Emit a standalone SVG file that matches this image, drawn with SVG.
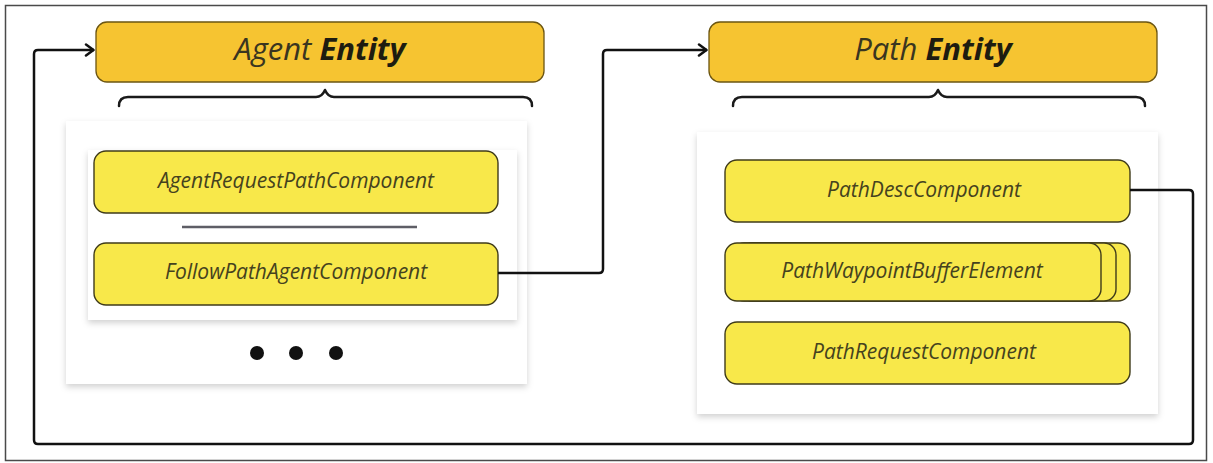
<svg xmlns="http://www.w3.org/2000/svg" width="1213" height="463" viewBox="0 0 1213 463">
  <defs>
    <style>
      .frame { fill: #ffffff; stroke: #4a4a4a; stroke-width: 1.5; }
      .header { fill: #F6C431; stroke: #6b5512; stroke-width: 1.3; }
      .header-text { font-family: "Open Sans", "Noto Sans", sans-serif; font-style: italic; font-size: 31px; fill: #3a3520; }
      .header-text .bold { font-weight: 700; fill: #1e1c10; }
      .brace { fill: none; stroke: #1a1a1a; stroke-width: 2.5; stroke-linejoin: round; stroke-linecap: round; }
      .panel { fill: #ffffff; }
      .comp { fill: #F8E84A; stroke: #3f3b1a; stroke-width: 1.4; }
      .comp-text { font-family: "Open Sans", "Noto Sans", sans-serif; font-style: italic; font-size: 21px; fill: #45421e; text-anchor: middle; }
      .link { fill: none; stroke: #111111; stroke-width: 2.5; stroke-linejoin: round; }
      .sep { stroke: #5e5e66; stroke-width: 2.5; }
      .dot { fill: #111111; }
    </style>
    <filter id="soft-shadow" x="-10%" y="-10%" width="120%" height="125%">
      <feDropShadow dx="0" dy="3" stdDeviation="3" flood-color="#000000" flood-opacity="0.18"/>
    </filter>
    <marker id="chevron" viewBox="0 0 12 14" refX="11" refY="7" markerWidth="12" markerHeight="14" markerUnits="userSpaceOnUse" orient="auto">
      <path d="M3 1.5 L10.5 7 L3 12.5" fill="none" stroke="#111111" stroke-width="2.5" stroke-linecap="round" stroke-linejoin="round"/>
    </marker>
  </defs>

  <!-- outer frame -->
  <rect class="frame" x="5.5" y="5.5" width="1201" height="455"/>

  <!-- Agent entity -->
  <g id="agent-entity">
    <rect class="header" x="96" y="22" width="448" height="60" rx="11"/>
    <text class="header-text" x="320" y="60" text-anchor="middle">Agent <tspan class="bold">Entity</tspan></text>
    <path class="brace" d="M119 106 Q119 97 128 97 H316 Q322 97 325 90 Q328 97 334 97 H523 Q532 97 532 106"/>
  </g>

  <g id="agent-panel">
    <rect class="panel" x="66" y="121" width="461" height="263" filter="url(#soft-shadow)"/>
    <rect class="panel" x="88" y="150" width="429" height="170" filter="url(#soft-shadow)"/>
    <g id="agent-request-path">
      <rect class="comp" x="94" y="151" width="404" height="62" rx="12"/>
      <text class="comp-text" x="296" y="188">AgentRequestPathComponent</text>
    </g>
    <line class="sep" x1="182" y1="227" x2="417" y2="227"/>
    <g id="follow-path-agent">
      <rect class="comp" x="94" y="243" width="404" height="62" rx="12"/>
      <text class="comp-text" x="296" y="279">FollowPathAgentComponent</text>
    </g>
    <circle class="dot" cx="257" cy="353" r="7"/>
    <circle class="dot" cx="296" cy="353" r="7"/>
    <circle class="dot" cx="336" cy="353" r="7"/>
  </g>

  <!-- Path entity -->
  <g id="path-entity">
    <rect class="header" x="709" y="22" width="448" height="60" rx="11"/>
    <text class="header-text" x="933" y="60" text-anchor="middle">Path <tspan class="bold">Entity</tspan></text>
    <path class="brace" d="M733 106 Q733 97 742 97 H929 Q935 97 938 90 Q941 97 947 97 H1136 Q1145 97 1145 106"/>
  </g>

  <g id="path-panel">
    <rect class="panel" x="697" y="132" width="461" height="282" filter="url(#soft-shadow)"/>
    <g id="path-desc">
      <rect class="comp" x="725" y="160" width="405" height="62" rx="12"/>
      <text class="comp-text" x="924" y="197">PathDescComponent</text>
    </g>
    <g id="path-waypoint-buffer">
      <rect class="comp" x="740" y="243" width="390" height="58" rx="12"/>
      <rect class="comp" x="732" y="243" width="384" height="58" rx="12"/>
      <rect class="comp" x="725" y="243" width="376" height="58" rx="12"/>
      <text class="comp-text" x="912" y="278">PathWaypointBufferElement</text>
    </g>
    <g id="path-request">
      <rect class="comp" x="725" y="322" width="405" height="62" rx="12"/>
      <text class="comp-text" x="924" y="359">PathRequestComponent</text>
    </g>
  </g>

  <!-- connectors, drawn last so they sit above the panels -->
  <g id="connectors">
    <path class="link" d="M498 273 H599 Q603 273 603 269 V54 Q603 50 607 50 H707" marker-end="url(#chevron)"/>
    <path class="link" d="M1130 190 H1189 Q1193 190 1193 194 V440 Q1193 444 1189 444 H38 Q34 444 34 440 V54 Q34 50 38 50 H94" marker-end="url(#chevron)"/>
  </g>
</svg>
